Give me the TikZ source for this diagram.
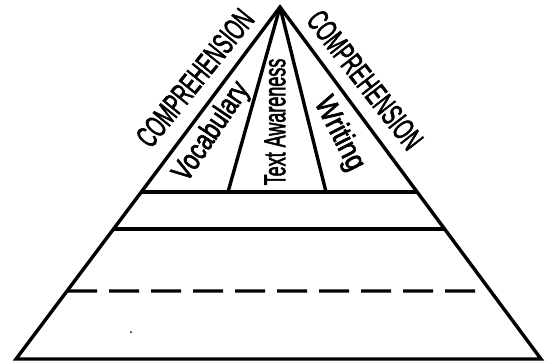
\documentclass[tikz,border=0pt]{standalone}
\usepackage{fontspec}
\setmainfont{Liberation Sans}
\newfontfamily\lblfont[FakeBold=2.5]{Liberation Sans}
\usetikzlibrary{calc}
\begin{document}
\begin{tikzpicture}[x=1pt,y=-1pt,
  edge/.style={line width=3.4pt, line join=miter},
  band/.style={line width=3.4pt},
  dashband/.style={line width=3.4pt, dash pattern=on 30pt off 12pt},
  lbl/.style={inner sep=0pt, font=\lblfont\fontsize{30}{32}\selectfont},
  big/.style={font=\lblfont\fontsize{31}{33}\selectfont}]
\useasboundingbox (0,0) rectangle (546,362);
\coordinate (apex) at (280,7);
\coordinate (bl) at (16,359);
\coordinate (br) at (541,359);
% outline
\draw[edge] (bl) -- (apex) -- (br) -- cycle;
% horizontal bands
\coordinate (l1a) at ($(apex)!0.5256!(bl)$);
\coordinate (l1b) at ($(apex)!0.5256!(br)$);
\coordinate (l2a) at ($(apex)!0.6307!(bl)$);
\coordinate (l2b) at ($(apex)!0.6307!(br)$);
\coordinate (l3a) at ($(apex)!0.8068!(bl)$);
\coordinate (l3b) at (478,291);
\draw[band] (l1a) -- (l1b);
\draw[band] (l2a) -- (l2b);
\draw[dashband] (l3a) -- (l3b);
% dividers in the top section
\coordinate (d1) at (228,192);
\coordinate (d2) at (326,192);
\draw[band] (apex) -- (d1);
\draw[band] (apex) -- (d2);
% stray dot
\coordinate (dot) at (131,332);
\fill (dot) circle (1pt);
% labels
\node[lbl, big, rotate=51] (compL) at (195,78) {\scalebox{0.60}[1]{COMPREHENSION}};
\node[lbl, big, rotate=-52] (compR) at (365,80) {\scalebox{0.60}[1]{COMPREHENSION}};
\node[lbl, rotate=56] (voc) at (212,132) {\scalebox{0.76}[1]{Vocabulary}};
\node[lbl, rotate=90] (ta) at (275,122) {\scalebox{0.60}[1]{Text Awareness}};
\node[lbl, rotate=-63] (wr) at (339,134) {\scalebox{0.85}[1]{Writing}};
\end{tikzpicture}
\end{document}
